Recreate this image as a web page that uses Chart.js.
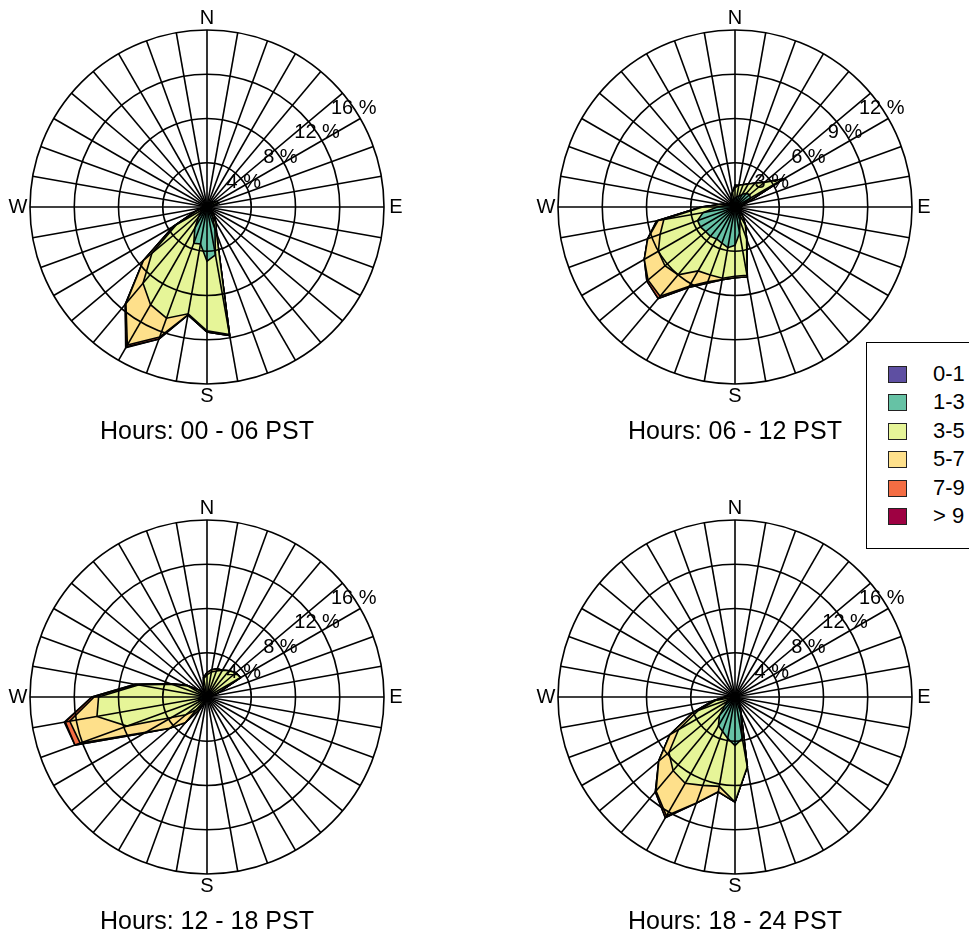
<!DOCTYPE html>
<html>
<head>
<meta charset="utf-8">
<script src="https://cdn.jsdelivr.net/npm/chart.js@4.4.1/dist/chart.umd.min.js"></script>
<style>
  body { margin: 0; background: #fff; width: 969px; height: 939px; overflow: hidden; position: relative;
         font-family: "Liberation Sans", Arial, sans-serif; }
  canvas { position: absolute; }
  #legend { position: absolute; left: 866px; top: 342px; width: 120px; height: 205px;
            border: 1px solid #000; background: #fff; }
  .sw { position: absolute; left: 21px; width: 17px; height: 15px; border: 1px solid #222; }
  .lb { position: absolute; left: 66px; font-size: 22px; line-height: 22px; color: #000; }
</style>
</head>
<body>
<canvas id="rose1" width="414" height="450" style="left:0px;top:0px"></canvas>
<canvas id="rose2" width="414" height="450" style="left:528px;top:0px"></canvas>
<canvas id="rose3" width="414" height="450" style="left:0px;top:490px"></canvas>
<canvas id="rose4" width="414" height="450" style="left:528px;top:490px"></canvas>
<div id="legend"></div>
<script>
// DATA
// 36 direction bins, 10 degrees apart, starting at north
const directions = [0,10,20,30,40,50,60,70,80,90,100,110,120,130,140,150,160,170,
                    180,190,200,210,220,230,240,250,260,270,280,290,300,310,320,330,340,350];
const speedClasses = ['0-1', '1-3', '3-5', '5-7', '7-9', '> 9'];
const classColors = ['#5E4FA2', '#66C2A5', '#E6F598', '#FEE08B', '#F46D43', '#9E0142'];
const ticksA = [4, 8, 12, 16];
const ticksB = [3, 6, 9, 12];

// Hours 00 - 06 (percent of time per speed class, per direction)
const h0006_s01 = [0.1,0.1,0.1,0.1,0.1,0.1,0.1,0.1,0.1,0.1,0.1,0.1,0.1,0.1,0.1,0.1,0.1,0.1,0.1,0.1,0.1,0.1,0.1,0.1,0.1,0.1,0.1,0.1,0.1,0.1,0.1,0.1,0.1,0.1,0.1,0.1];
const h0006_s13 = [0.1,0.1,0.1,0.2,0.2,0.3,0.3,0.3,0.2,0.2,0.2,0.2,0.2,0.3,0.5,0.9,2.0,4.3,4.8,3.3,3.4,2.1,1.1,0.6,0.4,0.2,0.2,0.1,0.1,0.1,0.1,0.1,0.1,0.1,0.1,0.1];
const h0006_s35 = [0.1,0.1,0.2,0.1,0.2,0.3,0.6,0.7,0.3,0.1,0.1,0.1,0.1,0.2,0.4,0.6,0.4,7.3,6.3,6.4,7.2,8.0,7.8,5.8,2.7,0.7,0.2,0.2,0.1,0.1,0.1,0.1,0.1,0.1,0.1,0.1];
const h0006_s57 = [0,0,0,0,0,0,0,0,0,0,0,0,0,0,0,0,0,0.1,0.1,0.1,1.8,4.2,2.4,1.0,0.3,0.1,0,0,0,0,0,0,0,0,0,0];
const h0006_s79 = [0,0,0,0,0,0,0,0,0,0,0,0,0,0,0,0,0,0,0,0,0.2,0.2,0.1,0,0,0,0,0,0,0,0,0,0,0,0,0];
const h0006_s9p = [0,0,0,0,0,0,0,0,0,0,0,0,0,0,0,0,0,0,0,0,0,0.1,0,0,0,0,0,0,0,0,0,0,0,0,0,0];

// Hours 06 - 12
const h0612_s01 = [0.1,0.1,0.1,0.1,0.1,0.1,0.1,0.1,0.1,0.1,0.1,0.1,0.1,0.1,0.1,0.1,0.1,0.1,0.1,0.1,0.1,0.1,0.1,0.1,0.1,0.1,0.1,0.1,0.1,0.1,0.1,0.1,0.1,0.1,0.1,0.1];
const h0612_s13 = [0.5,0.6,0.7,0.9,1.1,1.2,1.1,0.5,0.3,0.2,0.2,0.2,0.2,0.3,0.4,0.6,0.9,1.7,2.5,2.7,2.5,2.4,2.5,2.5,2.6,2.6,2.1,1.1,0.5,0.3,0.2,0.2,0.2,0.2,0.3,0.4];
const h0612_s35 = [0.7,0.8,0.8,0.8,0.9,1.3,2.6,0.2,0.1,0.1,0.1,0.1,0.1,0.1,0.3,0.7,1.3,2.9,2.1,2.1,2.3,2.5,3.4,3.6,3.3,2.7,2.7,1.0,0.4,0.2,0.1,0.1,0.1,0.2,0.3,0.5];
const h0612_s57 = [0.1,0,0,0,0,0,0,0,0,0,0,0,0,0,0,0,0,0.1,0.1,0.1,0.5,1.2,1.9,1.5,1.1,0.9,0.4,0.1,0,0,0,0,0,0,0,0];
const h0612_s79 = [0,0,0,0,0,0,0,0,0,0,0,0,0,0,0,0,0,0,0,0,0.1,0.1,0.2,0.1,0,0,0.1,0,0,0,0,0,0,0,0,0];
const h0612_s9p = [0.1,0,0,0,0,0,0,0,0,0,0,0,0,0,0,0,0,0,0,0,0,0,0,0,0,0,0,0,0,0,0,0,0,0,0,0];

// Hours 12 - 18
const h1218_s01 = [0.1,0.1,0.1,0.1,0.1,0.1,0.1,0.1,0.1,0.1,0.1,0.1,0.1,0.1,0.1,0.1,0.1,0.1,0.1,0.1,0.1,0.1,0.1,0.1,0.1,0.1,0.1,0.1,0.1,0.1,0.1,0.1,0.1,0.1,0.1,0.1];
const h1218_s13 = [0.3,0.4,0.5,0.5,0.5,0.4,0.3,0.2,0.1,0.1,0.1,0.1,0.1,0.1,0.1,0.1,0.1,0.1,0.1,0.1,0.1,0.2,0.3,0.4,0.5,0.7,0.7,0.5,0.3,0.2,0.2,0.2,0.2,0.2,0.2,0.2];
const h1218_s35 = [1.6,1.8,1.9,2.2,2.5,2.9,3.1,0.7,0.2,0.1,0.1,0.1,0.1,0.1,0.1,0.1,0.1,0.1,0.1,0.1,0.2,0.5,1.1,2.0,3.1,6.9,9.3,9.2,5.9,3.1,1.7,0.7,0.3,0.2,0.6,1.4];
const h1218_s57 = [0.2,0.2,0.2,0,0,0,0,0,0,0,0,0,0,0,0,0,0,0,0,0,0,0.4,1.5,1.9,2.7,4.5,2.5,0.4,0.2,0.1,0.1,0,0,0,0,0.1];
const h1218_s79 = [0,0,0,0,0,0,0,0,0,0,0,0,0,0,0,0,0,0,0,0,0,0,0,0,0.1,0.5,0.4,0.2,0.1,0,0,0,0,0,0,0];
const h1218_s9p = [0,0,0,0,0,0,0,0,0,0,0,0,0,0,0,0,0,0,0,0,0,0,0,0,0,0,0.1,0,0,0,0,0,0,0,0,0];

// Hours 18 - 24
const h1824_s01 = [0.1,0.1,0.1,0.1,0.1,0.1,0.1,0.1,0.1,0.1,0.1,0.1,0.1,0.1,0.1,0.1,0.1,0.1,0.1,0.1,0.1,0.1,0.1,0.1,0.1,0.1,0.1,0.1,0.1,0.1,0.1,0.1,0.1,0.1,0.1,0.1];
const h1824_s13 = [0.1,0.1,0.1,0.1,0.1,0.1,0.1,0.1,0.1,0.1,0.1,0.1,0.1,0.2,0.4,0.7,1.4,3.7,4.3,3.7,3.2,2.9,2.1,1.1,0.7,0.4,0.2,0.1,0.1,0.1,0.1,0.1,0.1,0.1,0.1,0.1];
const h1824_s35 = [0.1,0.1,0.1,0.1,0.1,0.1,0.1,0.1,0.1,0.1,0.1,0.1,0.1,0.1,0.1,0.0,0.1,2.6,5.1,4.4,5.2,6.0,6.5,6.6,5.1,3.0,1.5,0.6,0.2,0.1,0.1,0.1,0.1,0.1,0.1,0.1];
const h1824_s57 = [0,0,0,0,0,0,0,0,0,0,0,0,0,0,0,0,0,0,0,0.5,1.7,3.4,2.4,1.2,0.9,0.5,0.2,0.1,0,0,0,0,0,0,0,0];
const h1824_s79 = [0,0,0,0,0,0,0,0,0,0,0,0,0,0,0,0,0,0,0,0,0,0.2,0.1,0,0,0,0,0,0,0,0,0,0,0,0,0];
const h1824_s9p = [0,0,0,0,0,0,0,0,0,0,0,0,0,0,0,0,0,0,0,0,0,0,0,0,0,0,0,0,0,0,0,0,0,0,0,0];

// compass letters only at the four main directions
const compass = directions.map(d => ({0: 'N', 90: 'E', 180: 'S', 270: 'W'})[d] || '');

// TEXT OVERLAY (compass letters, % labels, panel title)
function roseText(title, tickVals) {
  return {
    id: 'roseText',
    afterDraw(chart) {
      const s = chart.scales.r, ctx = chart.ctx;
      ctx.save();
      ctx.fillStyle = '#000';
      ctx.textAlign = 'center';
      ctx.textBaseline = 'middle';
      ctx.font = '20px "Liberation Sans", Arial, sans-serif';
      compass.forEach((t, i) => {
        if (!t) return;
        const p = s.getPointPosition(i, s.drawingArea + 12);
        ctx.fillText(t, p.x, p.y);
      });
      const a = (56 - 90) * Math.PI / 180;
      tickVals.forEach(v => {
        const d = s.getDistanceFromCenterForValue(v);
        ctx.fillText(v + ' %', s.xCenter + d * Math.cos(a), s.yCenter + d * Math.sin(a));
      });
      ctx.font = '25px "Liberation Sans", Arial, sans-serif';
      ctx.fillText(title, s.xCenter, s.yCenter + 225);
      ctx.restore();
    }
  };
}

function buildRose(id, title, tickVals, series) {
  // stack the speed classes so each polygon is the cumulative frequency
  let running = directions.map(() => 0);
  const datasets = series.map((vals, k) => {
    running = running.map((r, i) => r + vals[i]);
    return {
      label: speedClasses[k],
      data: running.slice(),
      backgroundColor: classColors[k],
      borderColor: '#000',
      borderWidth: 1.6,
      fill: 'origin',
      pointRadius: 0
    };
  });
  const maxVal = tickVals[tickVals.length - 1];
  return new Chart(document.getElementById(id), {
    type: 'radar',
    data: { labels: compass, datasets },
    options: {
      responsive: false,
      animation: false,
      devicePixelRatio: 1,
      layout: { padding: { left: 30, right: 30, top: 30, bottom: 66 } },
      plugins: { legend: { display: false }, tooltip: { enabled: false } },
      elements: { line: { tension: 0 } },
      scales: {
        r: {
          min: 0,
          max: maxVal,
          ticks: { display: false, stepSize: tickVals[0] },
          grid: { circular: true, color: '#000', lineWidth: 1.6, z: 1 },
          angleLines: { display: true, color: '#000', lineWidth: 1.6 },
          pointLabels: { display: false }
        }
      }
    },
    plugins: [roseText(title, tickVals)]
  });
}

buildRose('rose1', 'Hours: 00 - 06 PST', ticksA,
  [h0006_s01, h0006_s13, h0006_s35, h0006_s57, h0006_s79, h0006_s9p]);
buildRose('rose2', 'Hours: 06 - 12 PST', ticksB,
  [h0612_s01, h0612_s13, h0612_s35, h0612_s57, h0612_s79, h0612_s9p]);
buildRose('rose3', 'Hours: 12 - 18 PST', ticksA,
  [h1218_s01, h1218_s13, h1218_s35, h1218_s57, h1218_s79, h1218_s9p]);
buildRose('rose4', 'Hours: 18 - 24 PST', ticksA,
  [h1824_s01, h1824_s13, h1824_s35, h1824_s57, h1824_s79, h1824_s9p]);

// LEGEND
const legend = document.getElementById('legend');
speedClasses.forEach((name, k) => {
  const top = 23 + k * 28.4;
  legend.insertAdjacentHTML('beforeend',
    `<div class="sw" style="top:${top}px;background:${classColors[k]}"></div>` +
    `<div class="lb" style="top:${top - 3}px">${name}</div>`);
});
</script>
</body>
</html>
